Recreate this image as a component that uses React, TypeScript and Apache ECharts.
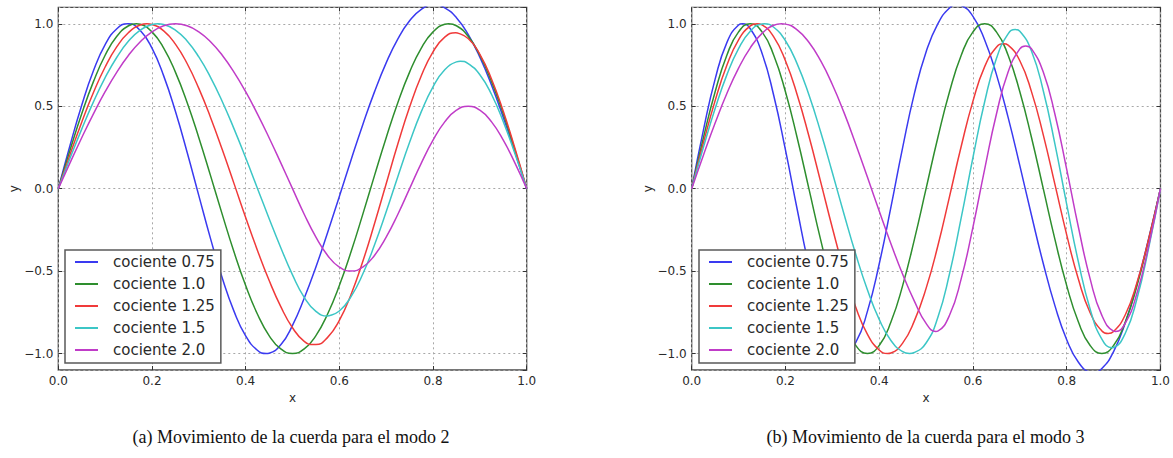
import React, { useEffect, useRef } from "react";
import * as echarts from "echarts";

// sample positions along the string
const X_VALUES = [
  0, 0.025, 0.05, 0.075, 0.1, 0.125, 0.15, 0.175, 0.2, 0.225, 0.25, 0.275, 0.3, 0.325, 0.35, 0.375, 0.4,
  0.425, 0.45, 0.475, 0.5, 0.525, 0.55, 0.575, 0.6, 0.625, 0.65, 0.675, 0.7, 0.725, 0.75, 0.775, 0.8,
  0.825, 0.85, 0.875, 0.9, 0.925, 0.95, 0.975, 1,
];

const SERIES_NAMES = ["cociente 0.75", "cociente 1.0", "cociente 1.25", "cociente 1.5", "cociente 2.0"];
const COLORS = ["#3a3af0", "#2e8e2e", "#f03a3a", "#3cc6c6", "#c03cc8"];

// (a) modo 2 — values at X_VALUES
const MODE2_075 = [0, 0.262, 0.506, 0.715, 0.873, 0.97, 1.0, 0.959, 0.852, 0.684, 0.469, 0.221, -0.042, -0.303, -0.542, -0.743, -0.893, -0.98, -0.998, -0.947, -0.829, -0.665, -0.475, -0.266, -0.047, 0.174, 0.388, 0.587, 0.763, 0.909, 1.018, 1.088, 1.115, 1.097, 1.037, 0.935, 0.797, 0.627, 0.432, 0.22, 0];
const MODE2_100 = [0, 0.233, 0.454, 0.649, 0.809, 0.924, 0.988, 0.997, 0.951, 0.853, 0.707, 0.523, 0.309, 0.079, -0.156, -0.383, -0.588, -0.76, -0.891, -0.972, -1.0, -0.972, -0.891, -0.76, -0.588, -0.383, -0.156, 0.079, 0.309, 0.523, 0.707, 0.853, 0.951, 0.997, 0.988, 0.924, 0.809, 0.649, 0.454, 0.233, 0];
const MODE2_125 = [0, 0.206, 0.403, 0.583, 0.738, 0.861, 0.947, 0.993, 0.996, 0.957, 0.877, 0.759, 0.608, 0.432, 0.237, 0.032, -0.175, -0.373, -0.556, -0.716, -0.844, -0.926, -0.946, -0.902, -0.799, -0.642, -0.442, -0.213, 0.03, 0.272, 0.495, 0.685, 0.83, 0.919, 0.946, 0.911, 0.815, 0.664, 0.469, 0.243, 0];
const MODE2_150 = [0, 0.184, 0.361, 0.526, 0.673, 0.797, 0.895, 0.962, 0.996, 0.996, 0.962, 0.896, 0.799, 0.675, 0.529, 0.364, 0.187, 0.003, -0.181, -0.358, -0.523, -0.659, -0.744, -0.773, -0.742, -0.655, -0.518, -0.342, -0.14, 0.074, 0.281, 0.467, 0.618, 0.721, 0.769, 0.759, 0.691, 0.571, 0.406, 0.211, 0];
const MODE2_200 = [0, 0.156, 0.309, 0.454, 0.588, 0.707, 0.809, 0.891, 0.951, 0.988, 1.0, 0.988, 0.951, 0.891, 0.809, 0.707, 0.588, 0.454, 0.309, 0.156, 0, -0.155, -0.294, -0.405, -0.476, -0.5, -0.476, -0.405, -0.294, -0.155, 0, 0.155, 0.294, 0.405, 0.476, 0.5, 0.476, 0.405, 0.294, 0.155, 0];

// (a) modo 2 — crests and troughs [x, y]
const MODE2_075_PEAKS = [[0.148, 1.0], [0.444, -1.0], [0.803, 1.115]];
const MODE2_100_PEAKS = [[0.1667, 1.0], [0.8333, 1.0]];
const MODE2_125_PEAKS = [[0.1894, 1.0], [0.5454, -0.946], [0.8485, 0.946]];
const MODE2_150_PEAKS = [[0.2127, 1.0], [0.5746, -0.773], [0.8582, 0.773]];
const MODE2_200_PEAKS: number[][] = [];

// (b) modo 3 — values at X_VALUES
const MODE3_075 = [0, 0.355, 0.664, 0.886, 0.993, 0.97, 0.821, 0.565, 0.235, -0.125, -0.469, -0.752, -0.937, -1.0, -0.932, -0.743, -0.457, -0.112, 0.249, 0.576, 0.829, 0.999, 1.096, 1.111, 1.045, 0.902, 0.693, 0.432, 0.14, -0.163, -0.454, -0.711, -0.916, -1.053, -1.113, -1.091, -0.988, -0.813, -0.578, -0.3, 0];
const MODE3_100 = [0, 0.309, 0.588, 0.809, 0.951, 1.0, 0.951, 0.809, 0.588, 0.309, 0, -0.309, -0.588, -0.809, -0.951, -1.0, -0.951, -0.809, -0.588, -0.309, 0, 0.309, 0.588, 0.809, 0.951, 1.0, 0.951, 0.809, 0.588, 0.309, 0, -0.309, -0.588, -0.809, -0.951, -1.0, -0.951, -0.809, -0.588, -0.309, 0];
const MODE3_125 = [0, 0.278, 0.534, 0.748, 0.903, 0.987, 0.993, 0.921, 0.776, 0.57, 0.319, 0.043, -0.237, -0.497, -0.719, -0.884, -0.979, -0.997, -0.937, -0.802, -0.605, -0.348, -0.048, 0.257, 0.531, 0.74, 0.858, 0.871, 0.776, 0.587, 0.326, 0.024, -0.28, -0.55, -0.753, -0.863, -0.867, -0.765, -0.569, -0.303, 0];
const MODE3_150 = [0, 0.251, 0.486, 0.69, 0.849, 0.955, 0.999, 0.979, 0.897, 0.757, 0.569, 0.345, 0.098, -0.155, -0.398, -0.615, -0.793, -0.921, -0.989, -0.994, -0.936, -0.782, -0.516, -0.176, 0.189, 0.527, 0.789, 0.939, 0.955, 0.834, 0.594, 0.269, -0.095, -0.445, -0.731, -0.913, -0.964, -0.877, -0.666, -0.358, 0];
const MODE3_200 = [0, 0.203, 0.398, 0.577, 0.731, 0.854, 0.942, 0.991, 0.998, 0.963, 0.888, 0.776, 0.632, 0.461, 0.27, 0.069, -0.136, -0.334, -0.519, -0.682, -0.817, -0.864, -0.768, -0.546, -0.233, 0.119, 0.451, 0.708, 0.848, 0.848, 0.707, 0.45, 0.117, -0.234, -0.547, -0.769, -0.864, -0.816, -0.633, -0.345, 0];

// (b) modo 3 — crests and troughs [x, y]
const MODE3_075_PEAKS = [[0.1082, 1.0], [0.3245, -1.0], [0.5673, 1.115], [0.8558, -1.115]];
const MODE3_100_PEAKS: number[][] = [];
const MODE3_125_PEAKS = [[0.1394, 1.0], [0.4182, -1.0], [0.6654, 0.879], [0.8885, -0.879]];
const MODE3_150_PEAKS = [[0.1549, 1.0], [0.4645, -1.0], [0.6903, 0.965], [0.8968, -0.965]];
const MODE3_200_PEAKS = [[0.1917, 1.0], [0.5207, -0.866], [0.7124, 0.866], [0.9042, -0.866]];

const MODE2 = [MODE2_075, MODE2_100, MODE2_125, MODE2_150, MODE2_200];
const MODE2_PEAKS = [MODE2_075_PEAKS, MODE2_100_PEAKS, MODE2_125_PEAKS, MODE2_150_PEAKS, MODE2_200_PEAKS];
const MODE3 = [MODE3_075, MODE3_100, MODE3_125, MODE3_150, MODE3_200];
const MODE3_PEAKS = [MODE3_075_PEAKS, MODE3_100_PEAKS, MODE3_125_PEAKS, MODE3_150_PEAKS, MODE3_200_PEAKS];

const X_MIN = 0;
const X_MAX = 1;
const X_INTERVAL = 0.2;
const Y_MIN = -1.1;
const Y_MAX = 1.1;

const CAPTION_A = "(a) Movimiento de la cuerda para el modo 2";
const CAPTION_B = "(b) Movimiento de la cuerda para el modo 3";

const SANS = "DejaVu Sans";
const TEXT_COLOR = "#2a2a2a";

function fmtY(v: number): string {
  if (Math.abs(v) > 1.05) return "";
  const a = Math.abs(v).toFixed(1);
  return v < -1e-9 ? "\u2212" + a : a;
}

function buildData(vals: number[], peaks: number[][]): number[][] {
  const pts = X_VALUES.map((x, k) => [x, vals[k]]);
  peaks.forEach((p) => pts.push([p[0], p[1]]));
  pts.sort((a, b) => a[0] - b[0]);
  return pts;
}

export default function App() {
  const ref = useRef<HTMLDivElement>(null);

  useEffect(() => {
    document.body.style.margin = "0";
    if (!ref.current) return;
    const chart = echarts.init(ref.current, undefined, { renderer: "svg" });

    const grids = [
      { left: 58.3, top: 7.3, width: 468.4, height: 362.7 },
      { left: 691.7, top: 7.3, width: 469, height: 362.7 },
    ];

    const tick = { show: true, inside: true, length: 4, lineStyle: { color: "#333", width: 1 } };
    const split = { show: true, lineStyle: { type: [2, 3], color: "#a8a8a8", width: 1 } };

    const xAxes: any[] = [];
    const yAxes: any[] = [];
    grids.forEach((_, g) => {
      xAxes.push({
        type: "value",
        gridIndex: g,
        position: "bottom",
        min: X_MIN,
        max: X_MAX,
        interval: X_INTERVAL,
        axisLine: { show: false, onZero: false },
        axisTick: tick,
        axisLabel: {
          formatter: (v: number) => v.toFixed(1),
          fontFamily: SANS,
          fontSize: 12,
          color: TEXT_COLOR,
          margin: 5,
        },
        splitLine: split,
        name: "x",
        nameLocation: "middle",
        nameGap: 21,
        nameTextStyle: { fontFamily: SANS, fontSize: 12, color: TEXT_COLOR },
      });
      xAxes.push({
        type: "value",
        gridIndex: g,
        position: "top",
        min: X_MIN,
        max: X_MAX,
        interval: X_INTERVAL,
        axisLine: { show: false, onZero: false },
        axisTick: tick,
        axisLabel: { show: false },
        splitLine: { show: false },
      });
      yAxes.push({
        type: "value",
        gridIndex: g,
        position: "left",
        min: Y_MIN,
        max: Y_MAX,
        splitNumber: 5,
        axisLine: { show: false, onZero: false },
        axisTick: tick,
        axisLabel: {
          formatter: fmtY,
          showMinLabel: false,
          showMaxLabel: false,
          fontFamily: SANS,
          fontSize: 12,
          color: TEXT_COLOR,
          margin: 5,
        },
        splitLine: split,
        name: "y",
        nameLocation: "middle",
        nameRotate: 90,
        nameGap: 37,
        nameTextStyle: { fontFamily: SANS, fontSize: 12, color: TEXT_COLOR },
      });
      yAxes.push({
        type: "value",
        gridIndex: g,
        position: "right",
        min: Y_MIN,
        max: Y_MAX,
        splitNumber: 5,
        axisLine: { show: false, onZero: false },
        axisTick: tick,
        axisLabel: { show: false },
        splitLine: { show: false },
      });
    });

    const series: any[] = [];
    [
      [MODE2, MODE2_PEAKS],
      [MODE3, MODE3_PEAKS],
    ].forEach(([group, peaksGroup]: any, g) => {
      group.forEach((vals: number[], i: number) => {
        series.push({
          type: "line",
          name: SERIES_NAMES[i],
          xAxisIndex: g * 2,
          yAxisIndex: g * 2,
          data: buildData(vals, peaksGroup[i]),
          smooth: 0.5,
          symbol: "none",
          showSymbol: false,
          clip: true,
          color: COLORS[i],
          lineStyle: { width: 1.5, color: COLORS[i] },
          z: 2,
        });
      });
    });

    const legendBase = {
      orient: "vertical",
      top: 250,
      padding: [3, 6, 4, 10],
      itemGap: 4,
      itemWidth: 23,
      itemHeight: 2,
      icon: "rect",
      backgroundColor: "#ffffff",
      borderColor: "#5a5a5a",
      borderWidth: 1.5,
      borderRadius: 0,
      selectedMode: false,
      textStyle: {
        fontFamily: SANS,
        fontSize: 15,
        color: TEXT_COLOR,
        lineHeight: 18,
        padding: [0, 0, 0, 10],
      },
      data: SERIES_NAMES,
      z: 10,
    };

    chart.setOption({
      animation: false,
      backgroundColor: "#ffffff",
      grid: grids.map((gr) => ({
        ...gr,
        show: true,
        borderColor: "#4a4a4a",
        borderWidth: 1.3,
        backgroundColor: "transparent",
        containLabel: false,
      })),
      xAxis: xAxes,
      yAxis: yAxes,
      legend: [
        { ...legendBase, left: 65 },
        { ...legendBase, left: 699 },
      ],
      series,
      graphic: [
        {
          type: "text",
          x: 291,
          y: 437,
          style: {
            text: CAPTION_A,
            font: '18px "Liberation Serif"',
            fill: "#111",
            textAlign: "center",
            textVerticalAlign: "middle",
          },
        },
        {
          type: "text",
          x: 925.5,
          y: 437,
          style: {
            text: CAPTION_B,
            font: '18px "Liberation Serif"',
            fill: "#111",
            textAlign: "center",
            textVerticalAlign: "middle",
          },
        },
      ],
    });

    return () => {
      chart.dispose();
    };
  }, []);

  return (
    <div
      ref={ref}
      style={{ position: "absolute", left: 0, top: 0, width: 1173, height: 458 }}
    />
  );
}
